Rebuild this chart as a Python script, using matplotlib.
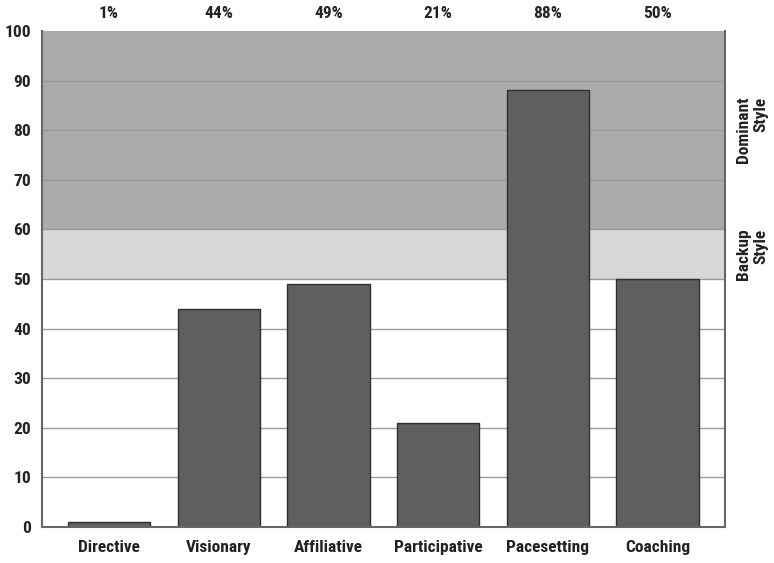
import matplotlib
matplotlib.use("Agg")
import matplotlib.pyplot as plt
from matplotlib import font_manager

categories = ["Directive", "Visionary", "Affiliative", "Participative", "Pacesetting", "Coaching"]
values = [1, 44, 49, 21, 88, 50]
top_labels = ["1%", "44%", "49%", "21%", "88%", "50%"]
yticks = [0, 10, 20, 30, 40, 50, 60, 70, 80, 90, 100]

names = {f.name for f in font_manager.fontManager.ttflist}
fam = "DejaVu Sans"
for cand in ["Roboto Condensed", "Liberation Sans Narrow", "Open Sans Condensed", "Roboto", "Liberation Sans"]:
    if cand in names:
        fam = cand
        break
plt.rcParams['font.family'] = [fam, "DejaVu Sans"]

fig = plt.figure(figsize=(7.74, 5.63), dpi=100)
ax = fig.add_axes([0.0543, 0.0639, 0.9367 - 0.0543, 0.945 - 0.0639])

x = list(range(len(categories)))
ax.axhspan(60, 100, color="#ababab", zorder=0, lw=0)
ax.axhspan(50, 60, color="#d7d7d7", zorder=0, lw=0)
for yv in yticks[1:-1]:
    ax.axhline(yv, color="#9a9a9a", lw=1, zorder=1)
ax.bar(x, values, width=0.75, color="#5f5f5f", edgecolor="#2f2f2f", lw=1, zorder=2)

ax.set_xlim(-0.61, 5.615)
ax.set_ylim(0, 100)
ax.set_yticks(yticks)
ax.set_xticks(x)
ax.set_xticklabels(categories, fontsize=12.5, fontweight="bold", color="#222222")
ax.tick_params(axis="both", length=0, labelsize=12.5)
ax.tick_params(axis="x", pad=9)
ax.tick_params(axis="y", pad=8)
for lab in ax.get_yticklabels():
    lab.set_fontweight("bold")
    lab.set_color("#222222")
for s in ["left", "bottom", "right"]:
    ax.spines[s].set_color("#666666")
    ax.spines[s].set_linewidth(1.5)
ax.spines["top"].set_visible(False)

for xi, t in zip(x, top_labels):
    ax.text(xi, 103.5, t, ha="center", va="center", fontsize=12.5, fontweight="bold", color="#222222")

ax.text(5.615 + 0.25, 80, "Dominant\nStyle", rotation=90, ha="center", va="center",
        fontsize=12.5, fontweight="bold", color="#222222", multialignment="right")
ax.text(5.615 + 0.25, 55, "Backup\nStyle", rotation=90, ha="center", va="center",
        fontsize=12.5, fontweight="bold", color="#222222", multialignment="right")

fig.savefig("out.png", dpi=100)
